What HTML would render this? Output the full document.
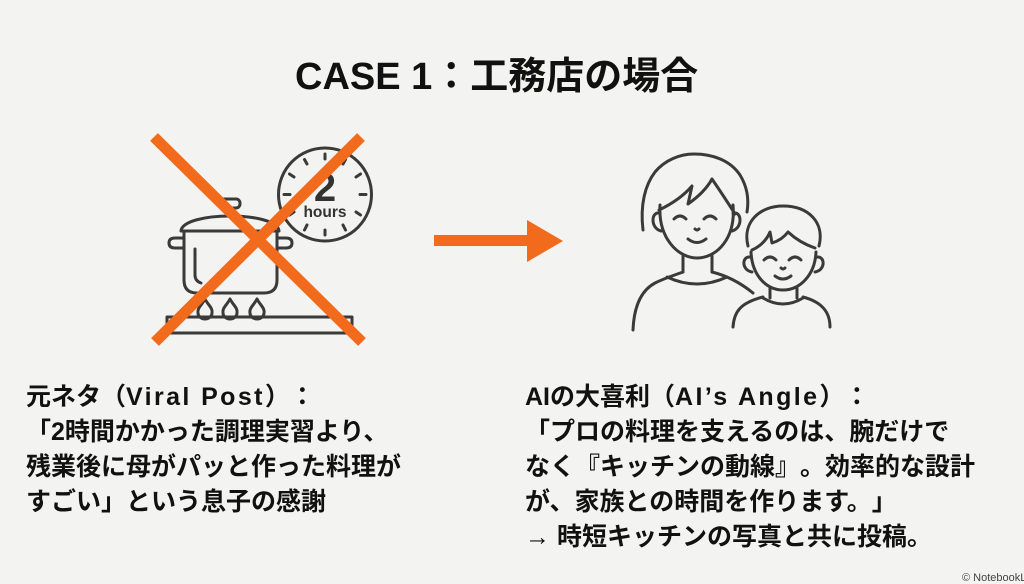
<!DOCTYPE html>
<html>
<head>
<meta charset="utf-8">
<style>
  html,body{margin:0;padding:0;}
  body{width:1024px;height:583px;background:#f3f3f1;position:relative;overflow:hidden;
       font-family:"Liberation Sans","Noto Sans CJK JP",sans-serif;color:#111;
       text-spacing-trim:space-all;}
  .title{position:absolute;left:295px;top:58px;font-size:38px;line-height:38px;font-weight:bold;white-space:nowrap;color:#111;text-spacing-trim:space-all;}
  .txt{position:absolute;top:380px;font-size:25px;line-height:35px;font-weight:bold;white-space:nowrap;color:#111;text-spacing-trim:space-all;}
  .lat{letter-spacing:2.4px;}
  .wm{position:absolute;left:962px;top:572px;font-size:11px;color:#444;white-space:nowrap;}
  svg{position:absolute;left:0;top:0;}
</style>
</head>
<body>
<div class="title">CASE 1：工務店の場合</div>

<svg width="1024" height="583" viewBox="0 0 1024 583">
  <g fill="none" stroke="#3a3a3a" stroke-width="3" stroke-linecap="round" stroke-linejoin="round">
    <!-- clock -->
    <circle cx="325" cy="194.5" r="46.5"/>
    <g stroke-width="3">
      <line x1="325" y1="154" x2="325" y2="159"/>
      <line x1="345.5" y1="159.5" x2="343" y2="164"/>
      <line x1="360.5" y1="174" x2="356" y2="177"/>
      <line x1="366" y1="194.5" x2="360" y2="194.5"/>
      <line x1="360.5" y1="215" x2="356" y2="212"/>
      <line x1="345.5" y1="230" x2="343" y2="225"/>
      <line x1="325" y1="235" x2="325" y2="230"/>
      <line x1="304.5" y1="230" x2="307" y2="225"/>
      <line x1="289.5" y1="215" x2="294" y2="212"/>
      <line x1="284" y1="194.5" x2="290" y2="194.5"/>
      <line x1="289.5" y1="174" x2="294" y2="177"/>
      <line x1="304.5" y1="159.5" x2="307" y2="164"/>
    </g>
    <!-- pot lid -->
    <path d="M181 231 C183 211 277 211 279 231 Z"/>
    <rect x="220" y="199" width="20" height="9" rx="4"/>
    <!-- pot body -->
    <path d="M184 233 L184 280 Q184 293 197 293 L264 293 Q277 293 277 280 L277 233"/>
    <path d="M184 238 L175 238 Q169 238 169 243 Q169 248 175 248 L184 248"/>
    <path d="M277 238 L286 238 Q292 238 292 243 Q292 248 286 248 L277 248"/>
    <path d="M195 249 L195 275 Q195 281 201 283"/>
    <!-- flames -->
    <path d="M205 299 C208 305 213 308 212 313 A7 6 0 0 1 198 313 C197 308 202 305 205 299 Z"/>
    <path d="M230 299 C233 305 238 308 237 313 A7 6 0 0 1 223 313 C222 308 227 305 230 299 Z"/>
    <path d="M257 299 C260 305 265 308 264 313 A7 6 0 0 1 250 313 C249 308 254 305 257 299 Z"/>
    <!-- stove -->
    <rect x="167" y="317" width="185" height="16"/>
  </g>
  <text x="325" y="201" text-anchor="middle" font-family="Liberation Sans, sans-serif" font-size="40" font-weight="bold" fill="#333">2</text>
  <text x="325" y="217" text-anchor="middle" font-family="Liberation Sans, sans-serif" font-size="15.5" font-weight="bold" fill="#333">hours</text>

  <!-- orange X -->
  <g stroke="#f26a1c" stroke-width="11" stroke-linecap="butt">
    <line x1="154" y1="137" x2="362" y2="342"/>
    <line x1="361" y1="137" x2="155" y2="342"/>
  </g>

  <!-- arrow -->
  <rect x="434" y="235" width="96" height="11" fill="#f26a1c"/>
  <path d="M527 220 L563 241 L527 262 Z" fill="#f26a1c"/>

  <!-- family -->
  <g fill="none" stroke="#3a3a3a" stroke-width="3" stroke-linecap="round" stroke-linejoin="round">
    <!-- mother -->
    <path d="M643 230 C640 205 645 185 655 172 C665 160 680 154 694 154 C712 154 730 160 740 175 C748 188 749 200 747 212"/>
    <path d="M660 205 C658 238 678 258 697 258 C717 258 736 238 733 205"/>
    <path d="M660 213 C651 211 650 228 661 231"/>
    <path d="M733 213 C742 211 743 228 732 231"/>
    <path d="M659 210 Q680 200 692 186 L688 204 Q705 192 712 179 Q725 198 735 214"/>
    <path d="M674 219 Q680 213 686 219"/>
    <path d="M704 219 Q710 213 716 219"/>
    <path d="M695 229 Q697 231 699 229"/>
    <path d="M688 239 Q697 246 706 239"/>
    <path d="M683 256 L683 272"/>
    <path d="M712 256 L712 272"/>
    <path d="M667 277 Q697 291 727 277"/>
    <path d="M633 330 C634 305 642 290 655 283 C665 278 675 275 683 272"/>
    <path d="M712 272 C728 276 742 284 753 293"/>
    <!-- kid -->
    <path d="M748 246 C742 222 760 206 783 206 C808 206 825 222 819 246"/>
    <path d="M751 252 C752 275 766 290 783 290 C800 290 815 275 816 252"/>
    <path d="M750 257 C742 256 741 270 752 272"/>
    <path d="M817 257 C825 256 826 270 815 272"/>
    <path d="M752 250 Q765 244 770 232 L772 243 Q782 240 788 232 Q800 243 815 248"/>
    <path d="M764 260 Q770 254 776 260"/>
    <path d="M789 260 Q795 254 801 260"/>
    <path d="M781 268 Q783 270 785 268"/>
    <path d="M775 276 Q783 282 791 276"/>
    <path d="M770 288 L770 298"/>
    <path d="M797 288 L797 298"/>
    <path d="M763 298 Q783 310 803 298"/>
    <path d="M733 327 C734 312 740 303 763 297"/>
    <path d="M803 297 C822 302 830 312 830 327"/>
  </g>
</svg>

<div class="txt" style="left:26px;">元ネタ（<span class="lat">Viral Post</span>）：<br>「2時間かかった調理実習より、<br>残業後に母がパッと作った料理が<br>すごい」という息子の感謝</div>

<div class="txt" style="left:525px;">AIの大喜利（<span class="lat">AI’s Angle</span>）：<br>「プロの料理を支えるのは、腕だけで<br>なく『キッチンの動線』。効率的な設計<br>が、家族との時間を作ります。」<br>→ 時短キッチンの写真と共に投稿。</div>

<div class="wm">© NotebookLM</div>
</body>
</html>
